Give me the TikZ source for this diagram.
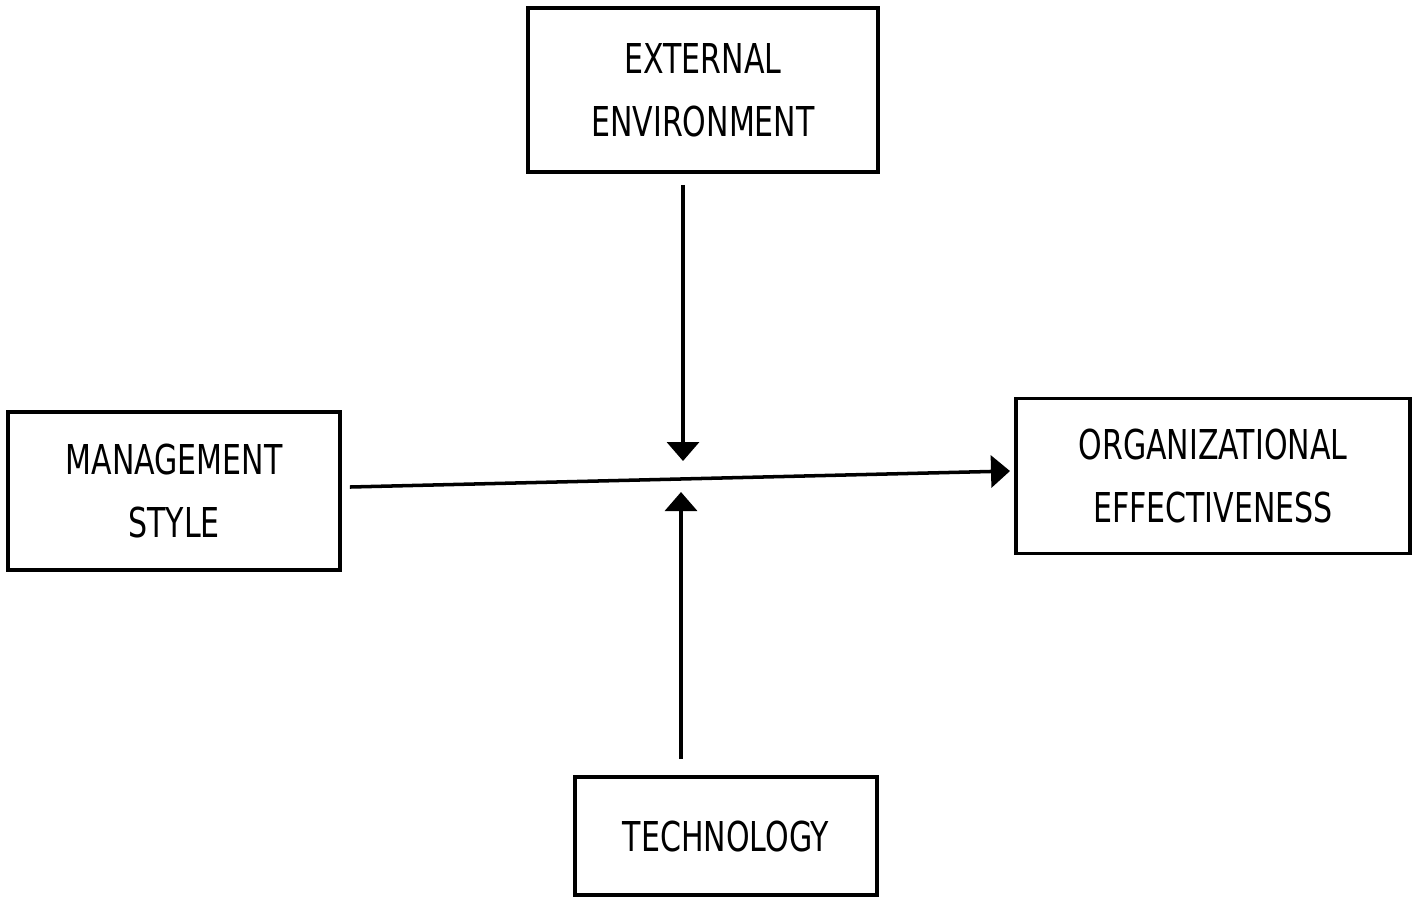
\documentclass[tikz,border=0pt]{standalone}
\usepackage{fontspec}
\setmainfont{DejaVu Sans}[FakeStretch=0.73]
\usetikzlibrary{arrows.meta}
\begin{document}
\begin{tikzpicture}[
    x=0.01cm, y=-0.01cm,
    factor/.style={draw, line width=1pt, align=center, inner sep=0pt,
      font=\fontsize{11.7pt}{17.9pt}\selectfont},
    conn/.style={line width=1pt, -{Triangle[length=0.19cm, width=0.32cm]}}
]
  \useasboundingbox (0,0) rectangle (1419,899);
  % the four boxes
  \node[factor, minimum width=3.5cm, minimum height=1.64cm] (ext) at (703,90)
    {EXTERNAL\\ENVIRONMENT};
  \node[factor, minimum width=3.32cm, minimum height=1.58cm] (mgmt) at (174,491)
    {MANAGEMENT\\STYLE};
  \node[factor, minimum width=3.94cm, minimum height=1.55cm] (org) at (1213,476)
    {ORGANIZATIONAL\\EFFECTIVENESS};
  \node[factor, minimum width=3.02cm, minimum height=1.18cm] (tech) at (726,836)
    {TECHNOLOGY};
  % arrow tips
  \coordinate (downtip) at (683,461);
  \coordinate (uptip) at (681,492);
  \coordinate (htip) at (1010,471);
  \draw[conn] ([yshift=-0.11cm]ext.south -| downtip) -- (downtip);
  \draw[conn] ([yshift=0.16cm]tech.north -| uptip) -- (uptip);
  \draw[conn] ([xshift=0.08cm,yshift=0.04cm]mgmt.east) -- (htip);
\end{tikzpicture}
\end{document}
